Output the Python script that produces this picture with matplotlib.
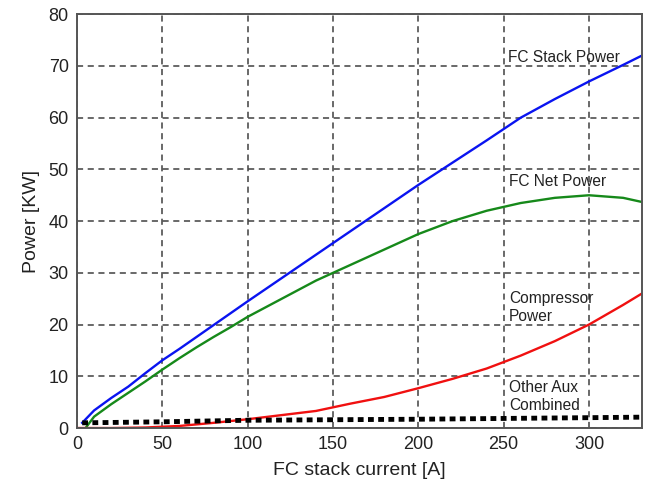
import matplotlib
matplotlib.use("Agg")
import matplotlib.pyplot as plt

plt.rcParams['font.family'] = ['Liberation Sans', 'DejaVu Sans']

# FC stack power [kW] vs stack current [A]
stack_current = [3, 10, 20, 30, 40, 50, 60, 70, 80, 90, 100, 120, 140, 160, 180,
                 200, 220, 240, 260, 280, 300, 320, 331]
stack_power = [1.0, 3.4, 5.8, 8.0, 10.6, 13.1, 15.3, 17.6, 19.9, 22.2, 24.5, 29.0,
               33.5, 38.0, 42.5, 47.0, 51.3, 55.6, 60.0, 63.6, 67.0, 70.2, 72.0]

# FC net power
net_current = [5, 10, 20, 30, 40, 50, 60, 70, 80, 90, 100, 120, 140, 160, 180,
               200, 220, 240, 260, 280, 300, 320, 331]
net_power = [0.0, 2.2, 4.6, 6.8, 9.0, 11.3, 13.5, 15.6, 17.6, 19.5, 21.5, 25.0,
             28.5, 31.5, 34.5, 37.5, 40.0, 42.0, 43.5, 44.5, 45.0, 44.5, 43.7]

# Compressor power
comp_current = [0, 20, 40, 60, 80, 100, 120, 140, 160, 180, 200, 220, 240, 260,
                280, 300, 320, 331]
comp_power = [0.0, 0.0, 0.1, 0.4, 1.0, 1.7, 2.5, 3.3, 4.7, 6.0, 7.7, 9.5, 11.5,
              14.0, 16.8, 20.0, 23.8, 26.0]

# Other auxiliaries combined
aux_current = [3, 50, 100, 150, 200, 250, 300, 331]
aux_power = [1.0, 1.2, 1.5, 1.6, 1.7, 1.85, 2.0, 2.1]

x_ticks = [0, 50, 100, 150, 200, 250, 300]
y_ticks = [0, 10, 20, 30, 40, 50, 60, 70, 80]

fig = plt.figure(figsize=(6.53, 4.9), dpi=100)
ax = fig.add_axes([0.118, 0.1265, 0.865, 0.8445])

ax.plot(stack_current, stack_power, color='#0a14f0', lw=1.7)
ax.plot(net_current, net_power, color='#16891a', lw=1.7)
ax.plot(comp_current, comp_power, color='#f01010', lw=1.7)
ax.plot(aux_current, aux_power, color='black', lw=3.5, linestyle=(0, (1.2, 0.9)))

ax.set_xlim(0, 331)
ax.set_ylim(0, 80)
ax.set_xticks(x_ticks)
ax.set_yticks(y_ticks)
ax.grid(True, color='#404040', linestyle=(0, (4, 3)), lw=1.1)
ax.tick_params(length=0, labelsize=13, pad=6, colors='#222222')
for s in ax.spines.values():
    s.set_color('#555555')
    s.set_linewidth(1.4)

ax.set_xlabel('FC stack current [A]', fontsize=14, color='#222222', labelpad=6)
ax.set_ylabel('Power [KW]', fontsize=14, color='#222222', labelpad=6)

# multi-line labels are anchored at the baseline of their last line
ann = dict(fontsize=11.2, color='#222222', va='baseline', ha='left')
ax.text(252.5, 70.7, 'FC Stack Power', **ann)
ax.text(253, 46.7, 'FC Net Power', **ann)
ax.text(253, 20.7, 'Compressor\nPower', linespacing=1.25, **ann)
ax.text(253, 3.5, 'Other Aux\nCombined', linespacing=1.25, **ann)

fig.savefig('out.png', dpi=100)
